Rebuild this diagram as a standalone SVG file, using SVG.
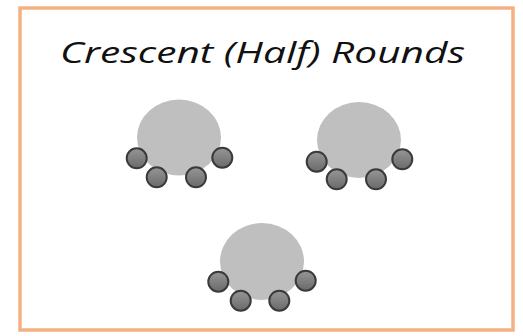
<svg xmlns="http://www.w3.org/2000/svg" width="523" height="336" viewBox="0 0 523 336">
<defs>
<linearGradient id="chairGrad" x1="0" y1="0" x2="0" y2="1">
<stop offset="0" stop-color="#969696"/>
<stop offset="1" stop-color="#6a6a6a"/>
</linearGradient>
</defs>
<style>
.frame{fill:#ffffff;stroke:#F4B183;stroke-width:3.5}
.table{fill:#BFBFBF}
.chair{fill:url(#chairGrad);stroke:#3a3a3a;stroke-width:2}
.title{font-family:"Open Sans","Noto Sans","DejaVu Sans",sans-serif;font-style:italic;font-size:30px;fill:#111111}
</style>
<rect class="frame" x="20" y="8" width="493" height="322"/>
<text class="title" x="60" y="63" textLength="405" lengthAdjust="spacingAndGlyphs">Crescent (Half) Rounds</text>
<g id="table1">
<ellipse class="table" cx="179" cy="137.5" rx="42" ry="38"/>
<circle class="chair" cx="136.7" cy="158.3" r="10"/>
<circle class="chair" cx="156.7" cy="177.3" r="10"/>
<circle class="chair" cx="196" cy="177.3" r="10"/>
<circle class="chair" cx="222.3" cy="157.7" r="10"/>
</g>
<g id="table2">
<ellipse class="table" cx="359" cy="140" rx="42" ry="38"/>
<circle class="chair" cx="316.7" cy="161.7" r="10"/>
<circle class="chair" cx="336.7" cy="179.3" r="10"/>
<circle class="chair" cx="376" cy="179.3" r="10"/>
<circle class="chair" cx="402.3" cy="159.3" r="10"/>
</g>
<g id="table3">
<ellipse class="table" cx="262" cy="261.5" rx="42" ry="38.5"/>
<circle class="chair" cx="218.3" cy="281.7" r="10"/>
<circle class="chair" cx="240.7" cy="300.7" r="10"/>
<circle class="chair" cx="279.3" cy="300.7" r="10"/>
<circle class="chair" cx="305.7" cy="280.7" r="10"/>
</g>
<g id="connectors"></g>
</svg>
